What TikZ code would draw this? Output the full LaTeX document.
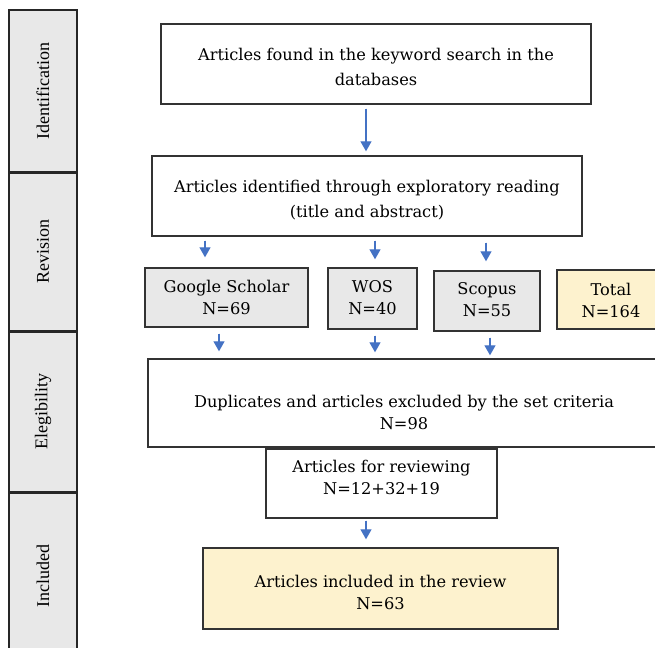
\documentclass[tikz,border=0pt]{standalone}
\usepackage{fontspec}
\setmainfont{DejaVu Serif}
\newfontfamily\phasefont{Liberation Serif}
\usetikzlibrary{arrows.meta,positioning}
\definecolor{cgray}{RGB}{232,232,232}
\definecolor{cyel}{RGB}{253,242,206}
\definecolor{carrow}{RGB}{68,114,196}
\tikzset{
  box/.style={draw=black!80, line width=1.4pt, inner sep=0pt},
  txt/.style={align=center, inner sep=0pt, font=\fontsize{16.2}{22}\selectfont},
  wide/.style={font=\fontsize{16.2}{25}\selectfont},
  phase/.style={draw=black!85, line width=1.4pt, fill=cgray, inner sep=0pt, minimum width=68pt, font=\phasefont\fontsize{18}{20}\selectfont},
  arrow/.style={-{Triangle[width=11pt,length=10pt]}, line width=1.3pt, draw=carrow, fill=carrow}
}

\begin{document}
\begin{tikzpicture}[x=1pt, y=-1pt]
    \useasboundingbox (0,0) rectangle (655,647);
    \clip (0,0) rectangle (655,647);

    % Phases
    \node[phase, minimum height=162pt] (ident) at (43,91) {\rotatebox{90}{Identification}};
    \node[phase, minimum height=157pt, below=0pt of ident] (rev) {\rotatebox{90}{Revision}};
    \node[phase, minimum height=160pt, below=0pt of rev] (elig) {\rotatebox{90}{Elegibility}};
    \node[phase, minimum height=166pt, below=0pt of elig] (incl) {\rotatebox{90}{Included}};

    % Search
    \node[box, minimum width=430pt, minimum height=80pt,
      label={[txt, wide, yshift=-3pt]center:{Articles found in the keyword search in the\\databases}}] (found) at (376,64) {};
    \node[box, minimum width=430pt, minimum height=80pt,
      label={[txt, wide, yshift=-4pt]center:{Articles identified through exploratory reading\\(title and abstract)}}] (explo) at (367,196) {};
    \draw[arrow] ([xshift=-10pt,yshift=-4pt]found.south) -- ([xshift=-1pt,yshift=4pt]explo.north);

    % Databases
    \node[box, fill=cgray, minimum width=163pt, minimum height=59pt,
      label={[txt]center:{Google Scholar\\N=69}}] (gs) at (226.5,297.5) {};
    \node[box, fill=cgray, minimum width=89pt, minimum height=61pt,
      label={[txt, yshift=1pt]center:{WOS\\N=40}}] (wos) at (372.5,298.5) {};
    \node[box, fill=cgray, minimum width=106pt, minimum height=60pt,
      label={[txt, yshift=1.5pt]center:{Scopus\\N=55}}] (scopus) at (487,301) {};
    \node[box, fill=cyel, minimum width=108pt, minimum height=59pt,
      label={[txt, yshift=-1pt]center:{Total\\N=164}}] (total) at (611,299.5) {};

    \draw[arrow] ([xshift=-21.5pt,yshift=-4pt]gs.north |- explo.south) -- ([xshift=-21.5pt,yshift=10pt]gs.north);
    \draw[arrow] ([xshift=2.5pt,yshift=-4pt]wos.north |- explo.south) -- ([xshift=2.5pt,yshift=8pt]wos.north);
    \draw[arrow] ([xshift=-1pt,yshift=-6pt]scopus.north |- explo.south) -- ([xshift=-1pt,yshift=9pt]scopus.north);

    % Screening
    \node[box, minimum width=512pt, minimum height=88pt,
      label={[txt, yshift=-9.5pt]center:{Duplicates and articles excluded by the set criteria\\N=98}}] (dup) at (404,403) {};
    \draw[arrow] ([xshift=-7.5pt,yshift=-6pt]gs.south) -- ([xshift=-7.5pt,yshift=7pt]gs.south |- dup.north);
    \draw[arrow] ([xshift=2.5pt,yshift=-6pt]wos.south) -- ([xshift=2.5pt,yshift=6pt]wos.south |- dup.north);
    \draw[arrow] ([xshift=3pt,yshift=-6pt]scopus.south) -- ([xshift=3pt,yshift=3pt]scopus.south |- dup.north);

    \node[box, minimum width=231pt, minimum height=69pt,
      label={[txt, yshift=6pt]center:{Articles for reviewing\\N=12+32+19}}] (review) at (381.5,483.5) {};

    % Included
    \node[box, fill=cyel, minimum width=355pt, minimum height=81pt,
      label={[txt, yshift=-4pt]center:{Articles included in the review\\N=63}}] (final) at (380.5,588.5) {};
    \draw[arrow] ([xshift=-15.5pt,yshift=-2pt]review.south) -- ([xshift=-14.5pt,yshift=8pt]final.north);

\end{tikzpicture}
\end{document}
